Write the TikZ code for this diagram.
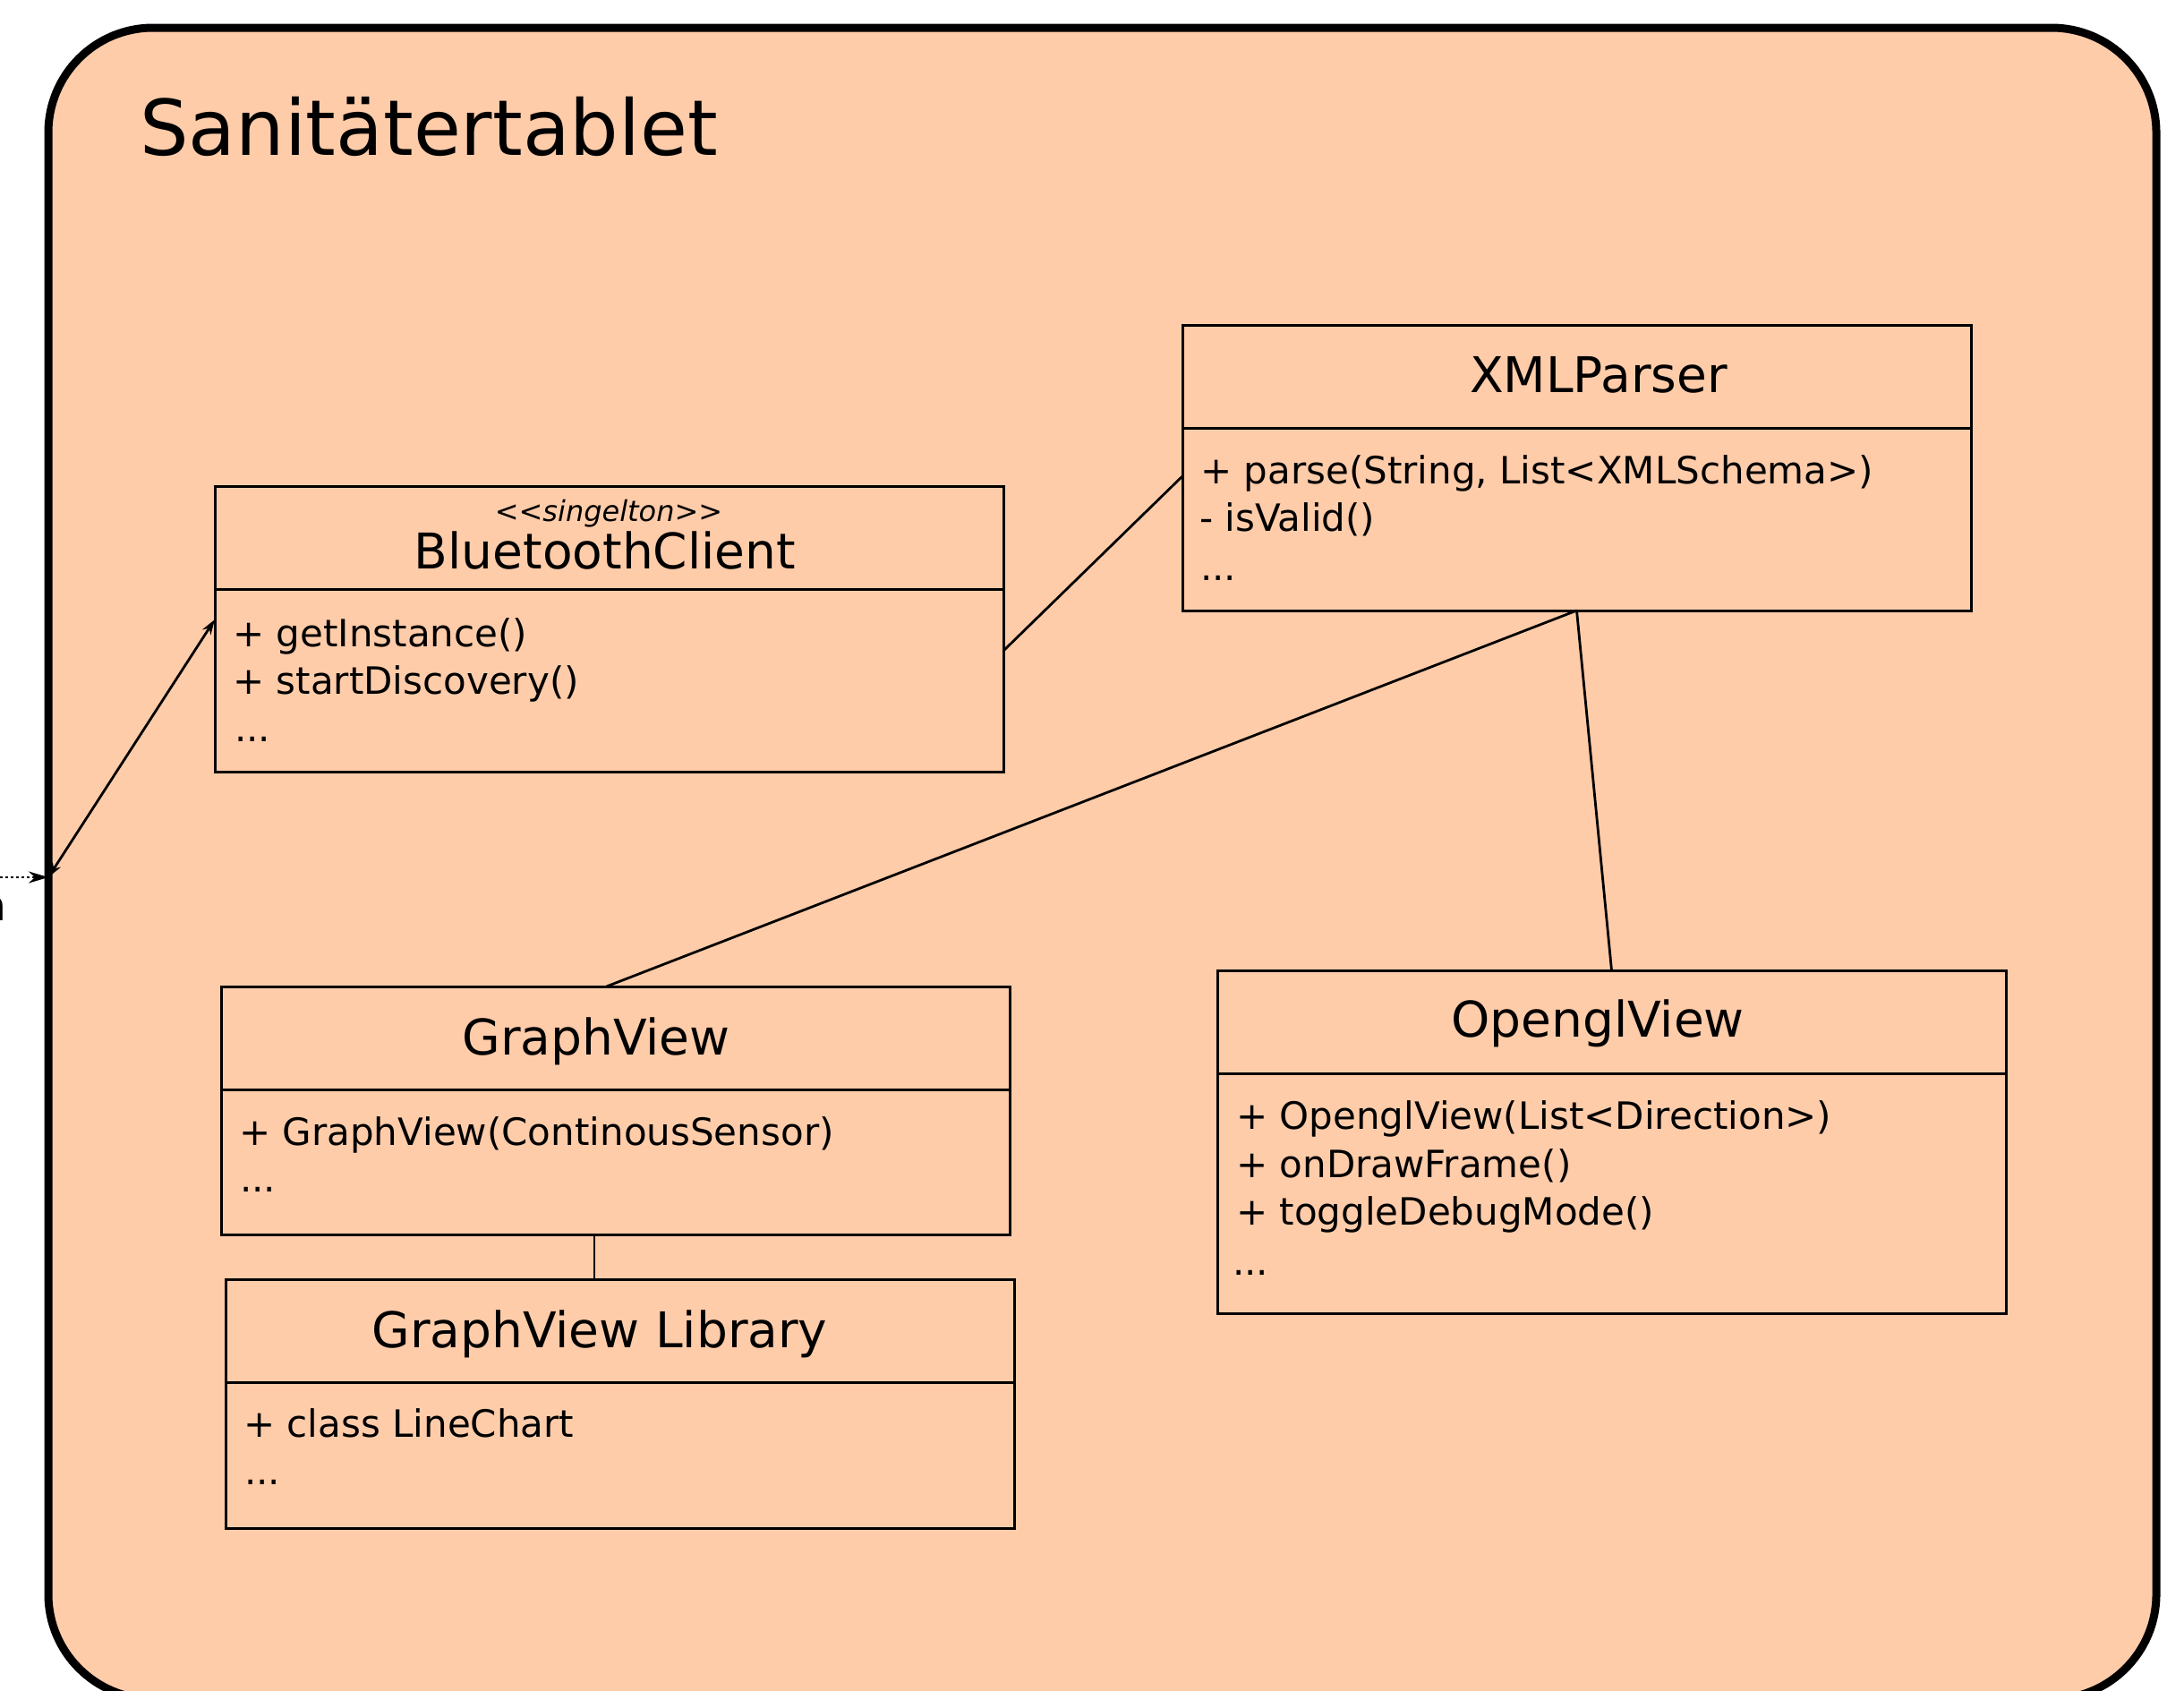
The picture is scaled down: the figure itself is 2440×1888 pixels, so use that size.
\documentclass[tikz,border=0pt]{standalone}
\usepackage{fontspec}
\setmainfont{DejaVu Sans}
\usetikzlibrary{arrows.meta,calc}
\definecolor{peach}{HTML}{FFCCAA}

\tikzset{
  frame/.style={draw, line width=9pt, fill=peach, rounded corners=117pt,
    anchor=north west, inner sep=0pt, outer sep=0pt},
  umlbox/.style={draw, line width=3pt, anchor=north west, inner sep=0pt,
    outer sep=0pt, minimum width=881pt},
  divider/.style={line width=3pt},
  cname/.style={anchor=base, inner sep=0pt, font=\fontsize{55}{66}\selectfont},
  member/.style={anchor=base west, inner sep=0pt, font=\fontsize{42}{50}\selectfont},
  stereo/.style={anchor=base, inner sep=0pt, font=\fontsize{32}{38}\selectfont\itshape},
  assoc/.style={line width=2.8pt},
  link/.style={line width=2.8pt,
    {Stealth[length=17pt,width=11pt]}-{Stealth[length=17pt,width=11pt]}},
  feed/.style={line width=2.8pt, dash pattern=on 3pt off 3pt,
    -{Stealth[length=22pt,width=13pt]}},
}

\begin{document}
\begin{tikzpicture}[x=1pt,y=-1pt]
\useasboundingbox (0,0) rectangle (2440,1888);
\clip (0,0) rectangle (2440,1888);

% tablet frame
\node[frame, minimum width=2355pt, minimum height=1867pt] (tablet) at (54,31) {};
\node[anchor=base west, inner sep=0pt, font=\fontsize{86}{100}\selectfont]
  (title) at (156,173) {Sanitätertablet};

% BluetoothClient
\node[umlbox, minimum height=319pt] (bc) at (240,543) {};
\draw[divider] ($(bc.north west)+(0,115)$) -- ($(bc.north east)+(0,115)$);
\node[stereo] (bcst) at (680,582) {{<}{<}singelton{>}{>}};
\node[cname] (bcname) at (676,635) {BluetoothClient};
\node[member] (bcm1) at (260,722) {+ getInstance()};
\node[member] (bcm2) at (260,775) {+ startDiscovery()};
\node[member] (bcm3) at (262,828) {...};

% XMLParser
\node[umlbox, minimum height=319pt] (xml) at (1321,363) {};
\draw[divider] ($(xml.north west)+(0,115)$) -- ($(xml.north east)+(0,115)$);
\node[cname] (xmlname) at (1786,438) {XMLParser};
\node[member] (xmlm1) at (1341,540) {+ parse(String, List<XMLSchema>)};
\node[member] (xmlm2) at (1340,593) {- isValid()};
\node[member] (xmlm3) at (1341,648) {...};

% GraphView
\node[umlbox, minimum height=277pt] (gv) at (247,1102) {};
\draw[divider] ($(gv.north west)+(0,115)$) -- ($(gv.north east)+(0,115)$);
\node[cname] (gvname) at (666,1178) {GraphView};
\node[member] (gvm1) at (267,1279) {+ GraphView(ContinousSensor)};
\node[member] (gvm2) at (268,1331) {...};

% GraphView Library
\node[umlbox, minimum height=278pt] (lib) at (252,1429) {};
\draw[divider] ($(lib.north west)+(0,115)$) -- ($(lib.north east)+(0,115)$);
\node[cname] (libname) at (670,1505) {GraphView Library};
\node[member] (libm1) at (272,1605) {+ class LineChart};
\node[member] (libm2) at (273,1658) {...};

% OpenglView
\node[umlbox, minimum height=383pt] (ogl) at (1360,1084) {};
\draw[divider] ($(ogl.north west)+(0,115)$) -- ($(ogl.north east)+(0,115)$);
\node[cname] (oglname) at (1785,1158) {OpenglView};
\node[member] (oglm1) at (1381,1261) {+ OpenglView(List<Direction>)};
\node[member] (oglm2) at (1381,1315) {+ onDrawFrame()};
\node[member] (oglm3) at (1381,1368) {+ toggleDebugMode()};
\node[member] (oglm4) at (1377,1424) {...};

% associations
\draw[assoc] ($(bc.north east)+(0,184)$) -- ($(xml.north west)+(0,169)$);
\draw[assoc] (xml.south) -- ($(gv.north)+(-10,0)$);
\draw[assoc] (xml.south) -- (ogl.north);
\coordinate (gvlib) at ($(gv.south west)+(417,0)$);
\draw[assoc] (gvlib) -- (gvlib |- lib.north);

% connection through the frame
\coordinate (port) at (54,980);
\coordinate (outside) at (0,980);
\draw[link] (port) -- ($(bc.north west)+(0,149)$);
\draw[feed] (outside) -- (port);
\node[anchor=base east, inner sep=0pt, font=\fontsize{47}{56}\selectfont]
  (extlabel) at (7.5,1028) {n};
\end{tikzpicture}
\end{document}
